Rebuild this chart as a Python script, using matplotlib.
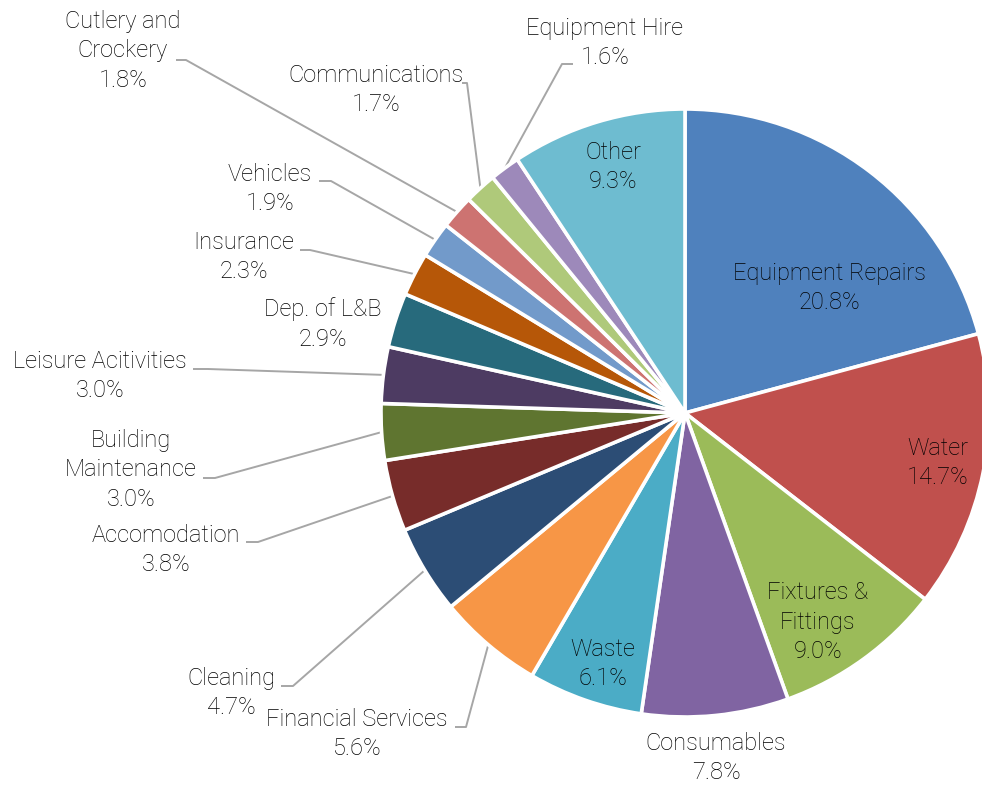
import numpy as np
import matplotlib
matplotlib.use("Agg")
import matplotlib.pyplot as plt

# Expense categories, clockwise from 12 o'clock
categories = ["Equipment Repairs", "Water", "Fixtures &\nFittings", "Consumables",
              "Waste", "Financial Services", "Cleaning", "Accomodation",
              "Building\nMaintenance", "Leisure Acitivities", "Dep. of L&B",
              "Insurance", "Vehicles", "Cutlery and\nCrockery", "Communications",
              "Equipment Hire", "Other"]
shares = [20.8, 14.7, 9.0, 7.8, 6.1, 5.6, 4.7, 3.8, 3.0, 3.0, 2.9, 2.3, 1.9,
          1.8, 1.7, 1.6, 9.3]
colors = ["#4F81BD", "#C0504D", "#9BBB59", "#8064A2", "#4BACC6", "#F79646",
          "#2C4D75", "#772C2A", "#5F7530", "#4D3B62", "#276A7C", "#B65708",
          "#729ACA", "#CD7371", "#AFC97A", "#9D89BA", "#6EBCD0"]

W, H = 982, 785
CX, CY, R = 685, 413, 304      # pie centre / radius in pixel units (from top)

def Y(y):
    return H - y

# label block centre (x, y from top) and optional leader stub (x_text, x_elbow, y)
label_pos = {
    "Equipment Repairs": ((830, 288), None),
    "Water": ((938, 463), None),
    "Fixtures &\nFittings": ((818, 622), None),
    "Consumables": ((716, 758), None),
    "Waste": ((603, 664), None),
    "Financial Services": ((357, 734), (455, 466, 727)),
    "Cleaning": ((231, 693), (281, 293, 686)),
    "Accomodation": ((166, 550), (246, 258, 542)),
    "Building\nMaintenance": ((131, 470), (203, 215, 478)),
    "Leisure Acitivities": ((100, 376), (193, 208, 369)),
    "Dep. of L&B": ((323, 324), None),
    "Insurance": ((244, 257), (300, 310, 250)),
    "Vehicles": ((270, 189), (319, 331, 181)),
    "Cutlery and\nCrockery": ((123, 51), (176, 186, 60)),
    "Communications": ((376, 90), (462, 467, 83)),
    "Equipment Hire": ((605, 43), (573, 562, 64)),
    "Other": ((613, 167), None),
}

plt.rcParams['font.family'] = ['Roboto', 'DejaVu Sans']

fig = plt.figure(figsize=(W / 100, H / 100), dpi=100)
ax = fig.add_axes([0, 0, 1, 1])

wedges, _ = ax.pie(shares, colors=colors, startangle=90, counterclock=False,
                   center=(CX, Y(CY)), radius=R,
                   wedgeprops=dict(edgecolor="white", linewidth=2.6))
ax.set_xlim(0, W)
ax.set_ylim(0, H)
ax.set_aspect("equal")
ax.axis("off")

total = sum(shares)
cum = np.cumsum([0] + shares[:-1])
for name, v, c0 in zip(categories, shares, cum):
    (tx, ty), stub = label_pos[name]
    pct = 100 * v / total
    ax.text(tx, Y(ty), f"{name}\n{pct:.1f}%", ha="center", va="center",
            fontsize=17, fontweight="light", color="#000000", linespacing=1.38)
    if stub is not None:
        ang = np.deg2rad(360 * (c0 + v / 2) / total)
        ex = CX + R * np.sin(ang)
        ey = CY - R * np.cos(ang)
        xs, xe, sy = stub
        ax.plot([xs, xe, ex], [Y(sy), Y(sy), Y(ey)], color="#A6A6A6", lw=1.4,
                solid_capstyle="butt", zorder=0.5)

fig.savefig("out.png", dpi=100)
